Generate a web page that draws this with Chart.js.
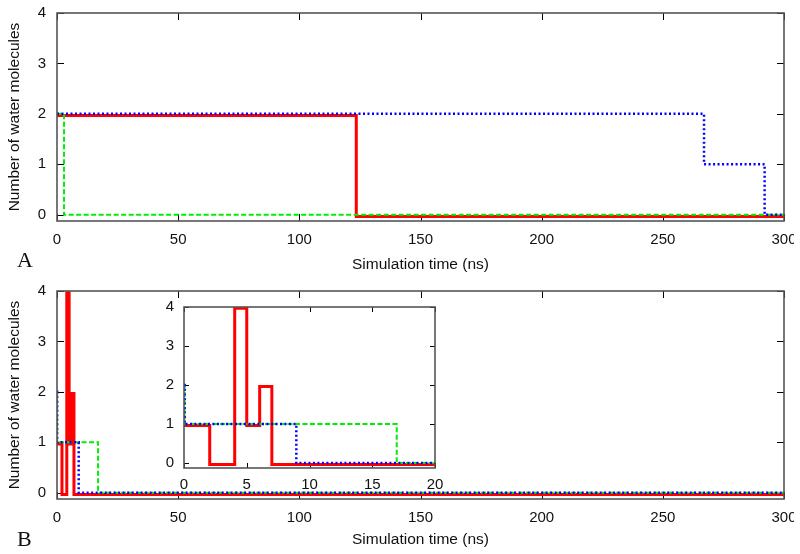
<!DOCTYPE html>
<html>
<head>
<meta charset="utf-8">
<script src="https://cdn.jsdelivr.net/npm/chart.js@4"></script>
<style>
  html, body { margin: 0; padding: 0; background: #fff; }
  body { position: relative; width: 800px; height: 554px; overflow: hidden; }
  .wrap { position: absolute; overflow: hidden; }
  .panel { position: absolute; font-family: "Liberation Serif", "Times New Roman", serif; font-size: 22px; line-height: 22px; color: #111; }
</style>
</head>
<body>
<div class="wrap" style="left:0;top:0;width:794px;height:277px;"><canvas id="chartA" width="820" height="277"></canvas></div>
<div class="wrap" style="left:0;top:277px;width:794px;height:277px;"><canvas id="chartB" width="820" height="277"></canvas></div>
<div class="wrap" style="left:134px;top:297px;width:320px;height:200px;"><canvas id="chartInset" width="320" height="200"></canvas></div>
<div class="panel" style="left:17px;top:249px;">A</div>
<div class="panel" style="left:17px;top:528px;">B</div>
<script>
// ---- data (time in ns, number of water molecules; each value holds until the next time) ----
const xTicksMain = [0, 50, 100, 150, 200, 250, 300];
const xTicksInset = [0, 5, 10, 15, 20];
const yTicks = [0, 1, 2, 3, 4];

const timeA_red   = [0, 123.5, 300];
const countA_red  = [2, 0, 0];
const timeA_green = [0, 2.9, 300];
const countA_green = [2, 0, 0];
const timeA_blue  = [0, 267, 292, 300];
const countA_blue = [2, 1, 0, 0];

const timeB_red   = [0, 2.05, 4.04, 5.0, 6.03, 7.0, 300];
const countB_red  = [1, 0, 4, 1, 2, 0, 0];
const timeB_green = [0, 0.05, 16.95, 300];
const countB_green = [2, 1, 0, 0];
const timeB_blue  = [0, 0.05, 8.95, 300];
const countB_blue = [2, 1, 0, 0];

// ---- styling ----
const RED = '#ff0000', GREEN = '#00ee00', BLUE = '#0000ff';
const FONT = '"Liberation Sans", Arial, Helvetica, sans-serif';
const RED_SHIFT = -0.035; // small drawing offset so overlapping lines stay visible

function pts(t, v, shift) { return t.map((x, i) => ({ x: x, y: v[i] + (shift || 0) })); }

function datasets(tr, vr, tg, vg, tb, vb) {
  return [
    { data: pts(tb, vb), borderColor: BLUE, borderWidth: 2.5, borderDash: [2, 2.5], stepped: 'before', pointRadius: 0, fill: false },
    { data: pts(tg, vg), borderColor: GREEN, borderWidth: 2, borderDash: [5, 2.5], stepped: 'before', pointRadius: 0, fill: false },
    { data: pts(tr, vr, RED_SHIFT), borderColor: RED, borderWidth: 3, stepped: 'before', pointRadius: 0, fill: false }
  ];
}

function framePlugin(tickLen) {
  return {
    id: 'frame',
    beforeDatasetsDraw(chart) {
      const { ctx, chartArea: { left, right, top, bottom }, scales: { x, y } } = chart;
      ctx.save();
      ctx.strokeStyle = '#000';
      ctx.lineWidth = 1;
      ctx.beginPath();
      x.ticks.forEach(t => {
        const px = Math.round(x.getPixelForValue(t.value)) + 0.5;
        ctx.moveTo(px, bottom); ctx.lineTo(px, bottom - tickLen);
        ctx.moveTo(px, top); ctx.lineTo(px, top + tickLen);
      });
      y.ticks.forEach(t => {
        const py = Math.round(y.getPixelForValue(t.value)) + 0.5;
        ctx.moveTo(left, py); ctx.lineTo(left + tickLen, py);
        ctx.moveTo(right, py); ctx.lineTo(right - tickLen, py);
      });
      ctx.stroke();
      ctx.restore();
    },
    afterDatasetsDraw(chart) {
      const { ctx, chartArea: { left, right, top, bottom } } = chart;
      ctx.save();
      ctx.strokeStyle = '#555';
      ctx.lineWidth = 1.6;
      ctx.strokeRect(left, top, right - left, bottom - top);
      ctx.restore();
    }
  };
}

function makeChart(id, ds, cfg) {
  return new Chart(document.getElementById(id), {
    type: 'line',
    data: { datasets: ds },
    plugins: [framePlugin(cfg.tickLen)],
    options: {
      responsive: false, animation: false, devicePixelRatio: 1,
      layout: { padding: cfg.padding },
      plugins: { legend: { display: false }, tooltip: { enabled: false } },
      scales: {
        x: {
          type: 'linear', min: cfg.xTicks[0], max: cfg.xTicks[cfg.xTicks.length - 1],
          afterBuildTicks: s => { s.ticks = cfg.xTicks.map(v => ({ value: v })); },
          afterFit: s => { s.height = cfg.xHeight; s.paddingLeft = 0; s.paddingRight = 0; },
          grid: { display: false, drawTicks: false, tickLength: 0 },
          border: { display: false },
          ticks: { padding: cfg.xPad, color: '#111', font: { family: FONT, size: 15 }, maxRotation: 0, autoSkip: false },
          title: cfg.xTitle ? { display: true, text: 'Simulation time (ns)', color: '#111', font: { family: FONT, size: 15.5 }, padding: { top: 0, bottom: cfg.xTitlePad } } : { display: false }
        },
        y: {
          type: 'linear', min: -0.125, max: 4,
          afterBuildTicks: s => { s.ticks = yTicks.map(v => ({ value: v })); },
          afterFit: s => { s.width = cfg.yWidth; s.paddingTop = 0; s.paddingBottom = 0; },
          grid: { display: false, drawTicks: false, tickLength: 0 },
          border: { display: false },
          ticks: { padding: cfg.yPad, color: '#111', font: { family: FONT, size: 15 }, autoSkip: false },
          title: cfg.yTitle ? { display: true, text: 'Number of water molecules', color: '#111', font: { family: FONT, size: 15.5 }, padding: { top: 5.5, bottom: 0 } } : { display: false }
        }
      }
    }
  });
}

makeChart('chartA', datasets(timeA_red, countA_red, timeA_green, countA_green, timeA_blue, countA_blue), {
  tickLen: 7, padding: { top: 13, right: 36, left: 0, bottom: 0 }, xTicks: xTicksMain,
  xHeight: 56, xPad: 10, xTitle: true, xTitlePad: 2.7, yWidth: 57, yPad: 11, yTitle: true
});
makeChart('chartB', datasets(timeB_red, countB_red, timeB_green, countB_green, timeB_blue, countB_blue), {
  tickLen: 7, padding: { top: 14, right: 36, left: 0, bottom: 0 }, xTicks: xTicksMain,
  xHeight: 55, xPad: 10, xTitle: true, xTitlePad: 4.7, yWidth: 57, yPad: 11, yTitle: true
});
makeChart('chartInset', datasets(timeB_red, countB_red, timeB_green, countB_green, timeB_blue, countB_blue), {
  tickLen: 5, padding: { top: 10, right: 19, left: 0, bottom: 0 }, xTicks: xTicksInset,
  xHeight: 29, xPad: 8, xTitle: false, yWidth: 50, yPad: 10, yTitle: false
});
</script>
</body>
</html>
